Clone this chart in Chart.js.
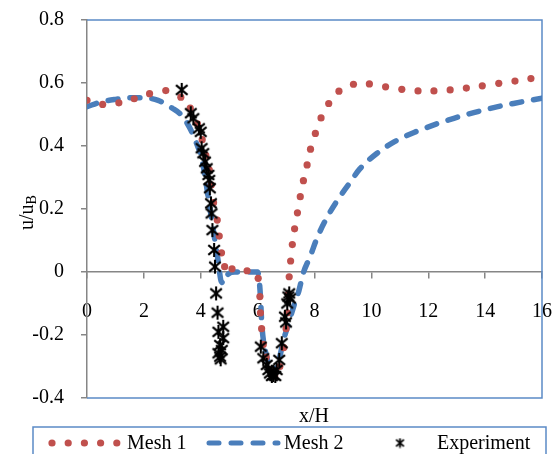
<!DOCTYPE html>
<html>
<head>
<meta charset="utf-8">
<script src="https://cdn.jsdelivr.net/npm/chart.js@4"></script>
<style>
  html, body { margin: 0; padding: 0; background: #fff; }
  #wrap { width: 554px; height: 454px; position: relative; }
</style>
</head>
<body>
<div id="wrap"><canvas id="profileChart" width="554" height="454"></canvas></div>
<script>
// values
var mesh1X = [0, 0.55, 1.12, 1.66, 2.2, 2.77, 3.3, 3.63, 3.88, 4.05, 4.18, 4.3, 4.37, 4.45, 4.58, 4.65, 4.73, 4.84,
    5.1, 5.63, 6.02, 6.08, 6.1, 6.14, 6.2, 6.3, 6.45, 6.6, 6.78, 6.92, 7.0, 7.04, 7.08, 7.11, 7.16, 7.22, 7.3, 7.4,
    7.5, 7.61, 7.74, 7.86, 8.03, 8.23, 8.5, 8.86, 9.37, 9.93, 10.5, 11.07, 11.64, 12.2, 12.77, 13.34, 13.9, 14.48,
    15.05, 15.61];
var mesh1Y = [0.545, 0.532, 0.537, 0.55, 0.566, 0.576, 0.555, 0.52, 0.47, 0.42, 0.37, 0.324, 0.276, 0.22, 0.165,
    0.114, 0.061, 0.017, 0.01, 0.004, -0.02, -0.078, -0.13, -0.18, -0.23, -0.27, -0.31, -0.33, -0.3, -0.24, -0.18,
    -0.13, -0.07, -0.015, 0.035, 0.087, 0.137, 0.188, 0.239, 0.29, 0.34, 0.39, 0.44, 0.489, 0.535, 0.574, 0.596,
    0.597, 0.588, 0.58, 0.575, 0.575, 0.578, 0.584, 0.591, 0.599, 0.606, 0.614];

var mesh2X = [0, 0.5, 1.0, 1.5, 2.0, 2.5, 3.0, 3.3, 3.6, 3.8, 4.0, 4.1, 4.3, 4.5, 4.62, 4.72, 4.82, 4.95, 5.2, 5.6,
    6.0, 6.06, 6.1, 6.15, 6.27, 6.38, 6.5, 6.6, 6.75, 6.9, 7.1, 7.3, 7.45, 7.6, 7.85, 8.1, 8.45, 8.8, 9.2, 9.6,
    10.2, 10.8, 11.5, 12.2, 12.9, 13.6, 14.3, 15.0, 16.0];
var mesh2Y = [0.525, 0.54, 0.548, 0.553, 0.553, 0.545, 0.52, 0.5, 0.46, 0.42, 0.37, 0.33, 0.215, 0.1, 0.03, -0.03,
    -0.035, -0.008, 0, 0, 0, -0.03, -0.08, -0.17, -0.25, -0.29, -0.325, -0.315, -0.28, -0.22, -0.16, -0.1, -0.06,
    -0.005, 0.05, 0.11, 0.175, 0.227, 0.278, 0.328, 0.377, 0.413, 0.443, 0.467, 0.488, 0.506, 0.522, 0.535, 0.552];

var expX = [3.33, 3.65, 3.74, 3.94, 4.0, 4.03, 4.09, 4.15, 4.21, 4.27, 4.3, 4.32, 4.36, 4.38, 4.41, 4.47, 4.5, 4.54,
    4.59, 4.79, 4.62, 4.79, 4.68, 4.74, 4.62, 4.68, 4.7, 6.11, 6.2, 6.32, 6.38, 6.43, 6.5, 6.55, 6.62, 6.67, 6.76,
    6.85, 6.96, 7.0, 7.04, 7.08, 7.11, 7.14];
var expY = [0.578, 0.504, 0.488, 0.456, 0.445, 0.393, 0.377, 0.35, 0.329, 0.308, 0.292, 0.266, 0.218, 0.186, 0.133,
    0.07, 0.017, -0.068, -0.129, -0.174, -0.19, -0.21, -0.232, -0.248, -0.258, -0.269, -0.277, -0.237, -0.274,
    -0.295, -0.311, -0.322, -0.33, -0.327, -0.33, -0.311, -0.279, -0.226, -0.142, -0.16, -0.1, -0.078, -0.068,
    -0.084];

var seriesNames = ['Mesh 1', 'Mesh 2', 'Experiment'];
var xTitle = 'x/H';

var RED = '#c0504d';
var BLUE = '#4a7ebb';
var FRAME = '#5b8ac6';
var GREY = '#868686';
var FONT = '"Liberation Serif", "Times New Roman", serif';

function toPoints(xs, ys) {
    return xs.map(function (x, i) { return { x: x, y: ys[i] }; });
}

// black asterisk marker: an X with a vertical bar
function starMarker(size, lw) {
    var c = document.createElement('canvas');
    c.width = size;
    c.height = size;
    var g = c.getContext('2d');
    var m = size / 2, d = size * 0.36;
    g.strokeStyle = '#000';
    g.lineWidth = lw;
    g.beginPath();
    g.moveTo(m - d, m - d * 0.85); g.lineTo(m + d, m + d * 0.85);
    g.moveTo(m + d, m - d * 0.85); g.lineTo(m - d, m + d * 0.85);
    g.moveTo(m, m - d * 1.2); g.lineTo(m, m + d * 1.2);
    g.stroke();
    return c;
}
var star = starMarker(16, 2.1);
var legendStar = starMarker(11, 1.8);

// plot frame, axis titles and the boxed legend
var decorPlugin = {
    id: 'decor',
    beforeDatasetsDraw: function (chart) {
        var a = chart.chartArea, ctx = chart.ctx;
        ctx.save();
        ctx.strokeStyle = FRAME;
        ctx.lineWidth = 1.5;
        ctx.beginPath();
        ctx.moveTo(a.left, a.top);
        ctx.lineTo(a.right, a.top);
        ctx.lineTo(a.right, a.bottom);
        ctx.lineTo(a.left, a.bottom);
        ctx.stroke();
        ctx.restore();
    },
    afterDraw: function (chart) {
        var ctx = chart.ctx;
        ctx.save();

        // x title
        ctx.fillStyle = '#000';
        ctx.font = '20px ' + FONT;
        ctx.textAlign = 'center';
        ctx.textBaseline = 'middle';
        ctx.fillText(xTitle, 314, 417);

        // y title with subscript
        ctx.save();
        ctx.translate(33, 230);
        ctx.rotate(-Math.PI / 2);
        ctx.textAlign = 'left';
        ctx.textBaseline = 'alphabetic';
        ctx.font = '20px ' + FONT;
        ctx.fillText('u/u', 0, 0);
        var w = ctx.measureText('u/u').width;
        ctx.font = '14px ' + FONT;
        ctx.fillText('B', w, 3);
        ctx.restore();

        // legend box
        ctx.strokeStyle = FRAME;
        ctx.lineWidth = 1.5;
        ctx.strokeRect(33, 427, 513, 34);

        var ly = 443;
        ctx.fillStyle = RED;
        for (var i = 0; i < 5; i++) {
            ctx.beginPath();
            ctx.arc(52 + i * 16.2, ly, 3.6, 0, Math.PI * 2);
            ctx.fill();
        }
        ctx.strokeStyle = BLUE;
        ctx.lineWidth = 5;
        ctx.lineCap = 'round';
        ctx.setLineDash([10, 12]);
        ctx.beginPath();
        ctx.moveTo(209, ly);
        ctx.lineTo(278, ly);
        ctx.stroke();
        ctx.setLineDash([]);
        ctx.drawImage(legendStar, 400 - 5.5, ly - 5.5);

        ctx.fillStyle = '#000';
        ctx.font = '20px ' + FONT;
        ctx.textAlign = 'left';
        ctx.textBaseline = 'middle';
        ctx.fillText(seriesNames[0], 127, ly + 1);
        ctx.fillText(seriesNames[1], 284, ly + 1);
        ctx.fillText(seriesNames[2], 437, ly + 1);
        ctx.restore();
    }
};

var ctx = document.getElementById('profileChart').getContext('2d');

new Chart(ctx, {
    type: 'scatter',
    data: {
        datasets: [
            {
                label: seriesNames[0],
                data: toPoints(mesh1X, mesh1Y),
                showLine: false,
                pointRadius: 3.6,
                pointBackgroundColor: RED,
                pointBorderWidth: 0,
                order: 1
            },
            {
                label: seriesNames[1],
                data: toPoints(mesh2X, mesh2Y),
                showLine: true,
                borderColor: BLUE,
                borderWidth: 5.5,
                borderDash: [10, 12],
                borderCapStyle: 'round',
                cubicInterpolationMode: 'monotone',
                pointRadius: 0,
                order: 2
            },
            {
                label: seriesNames[2],
                data: toPoints(expX, expY),
                showLine: false,
                pointStyle: star,
                pointRadius: 8,
                order: 0
            }
        ]
    },
    options: {
        responsive: false,
        animation: false,
        layout: { padding: { left: 0, right: 12, top: 20, bottom: 56 } },
        plugins: {
            legend: { display: false },
            tooltip: { enabled: false }
        },
        scales: {
            x: {
                type: 'linear',
                position: { y: 0 },
                min: 0,
                max: 16,
                afterFit: function (scale) { scale.paddingLeft = 0; scale.paddingRight = 0; },
                grid: { drawOnChartArea: false, drawTicks: true, tickLength: 6, color: GREY, lineWidth: 1.5 },
                border: { color: GREY, width: 1.5 },
                ticks: { stepSize: 2, color: '#000', padding: 22, maxRotation: 0, font: { family: FONT, size: 20 } }
            },
            y: {
                type: 'linear',
                min: -0.4,
                max: 0.8,
                afterFit: function (scale) {
                    scale.width = 87;
                    scale.paddingTop = 0;
                    scale.paddingBottom = 0;
                },
                grid: { drawOnChartArea: false, drawTicks: true, tickLength: 6, color: GREY, lineWidth: 1.5 },
                border: { color: GREY, width: 1.5 },
                ticks: {
                    stepSize: 0.2,
                    color: '#000',
                    padding: 17,
                    font: { family: FONT, size: 20 },
                    callback: function (v) {
                        var r = Math.round(v * 10) / 10;
                        return r === 0 ? '0' : r.toFixed(1);
                    }
                }
            }
        }
    },
    plugins: [decorPlugin]
});
</script>
</body>
</html>
